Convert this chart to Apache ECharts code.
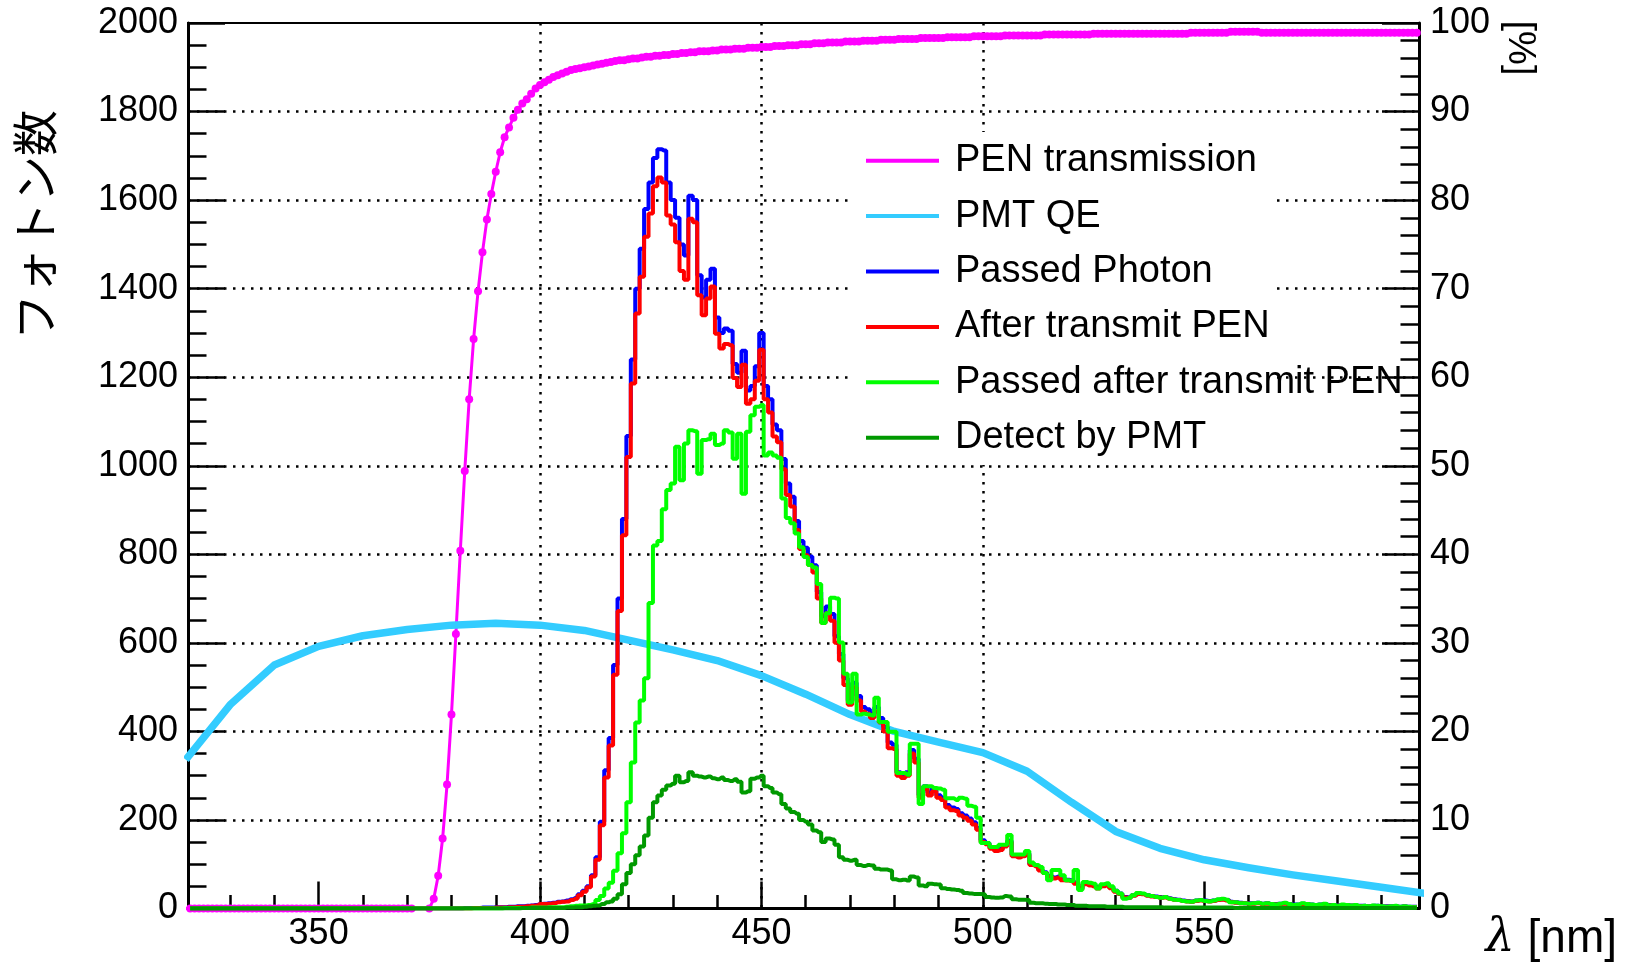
<!DOCTYPE html>
<html><head><meta charset="utf-8">
<script src="https://cdn.jsdelivr.net/npm/echarts@6/dist/echarts.min.js"></script>
<style>html,body{margin:0;padding:0;background:#fff}#c{width:1626px;height:969px}</style>
</head><body><div id="c"></div>
<script>
// ---------------- DATA ----------------
const seriesNames = ['PEN transmission','PMT QE','Passed Photon','After transmit PEN','Passed after transmit PEN','Detect by PMT'];
const xMajorTicks = [350,400,450,500,550];
const xMinorTicks = [330,340,350,360,370,380,390,400,410,420,430,440,450,460,470,480,490,500,510,520,530,540,550,560,570,580,590];

// histogram bins, 1 nm wide, first bin centre at 321 nm
const histStart = 321;
const passedPhoton = [
0,0,0,0,0,0,0,0,0,0, 0,0,0,0,0,0,0,0,0,0, 0,0,0,0,0,0,0,0,0,0, 0,0,0,0,0,0,0,0,0,0, 0,0,0,0,0,0,0,0,0,0, 0,0,0,0,0,0,0,0,0,
0,0,0,1,1,1,1,2,2,2,
3,3,3,4,4,5,5,6,7,8,
10,11,12,13,15,16,18,21,24,32,
40,50,75,116,196,312,385,550,700,880,
1067,1240,1400,1490,1580,1640,1695,1715,1712,1640,
1600,1560,1500,1475,1610,1600,1430,1380,1420,1445,
1335,1300,1310,1305,1230,1210,1260,1170,1180,1225,
1300,1180,1150,1093,1080,1015,960,930,875,830,
815,795,775,715,660,682,665,615,575,520,
470,510,480,455,450,440,455,430,410,375,
370,308,302,308,358,338,256,276,262,272,
256,250,234,228,225,215,210,203,195,182,
154,148,138,133,135,143,153,121,118,121,
125,101,97,88,82,74,70,72,66,65,
64,58,46,56,55,53,48,52,54,48,
40,34,26,25,30,34,33,30,28,27,
25,26,23,21,20,18,17,16,18,19,
18,17,18,20,21,19,15,14,13,12,
12,12,13,11,12,10,10,11,12,10,
9,9,11,10,9,8,9,10,8,8,
7,8,8,7,7,6,6,5,6,6,
5,5,5,5,4,5,4,4,4];
const afterTransmitPEN = [
0,0,0,0,0,0,0,0,0,0, 0,0,0,0,0,0,0,0,0,0, 0,0,0,0,0,0,0,0,0,0, 0,0,0,0,0,0,0,0,0,0, 0,0,0,0,0,0,0,0,0,0, 0,0,0,0,0,0,0,0,0,
0,0,0,0,0,1,1,1,1,1,
2,2,2,3,3,4,4,5,6,7,
10,10,11,12,14,15,16,19,22,30,
38,48,72,110,188,296,368,528,672,843,
1020,1186,1344,1427,1517,1570,1631,1651,1640,1565,
1545,1505,1440,1420,1558,1550,1385,1340,1378,1405,
1298,1265,1275,1272,1198,1178,1228,1140,1150,1192,
1262,1150,1120,1066,1053,992,934,908,855,812,
798,776,759,700,645,667,650,600,560,505,
460,500,470,445,440,430,445,420,400,362,
360,300,295,300,350,330,250,270,255,265,
250,245,228,222,220,210,205,198,190,178,
150,145,135,130,132,140,150,118,115,118,
122,98,95,86,80,72,68,70,64,63,
62,56,44,55,52,50,45,50,52,46,
38,33,25,24,29,33,32,29,27,26,
24,25,22,20,19,17,16,15,17,18,
17,16,17,19,20,18,14,13,12,12,
11,11,12,10,11,9,9,10,11,9,
8,8,10,9,8,7,8,9,7,7,
6,7,7,6,6,5,5,4,5,5,
4,4,4,4,3,4,3,3,3];
const passedAfterPEN = [
0,0,0,0,0,0,0,0,0,0, 0,0,0,0,0,0,0,0,0,0, 0,0,0,0,0,0,0,0,0,0, 0,0,0,0,0,0,0,0,0,0, 0,0,0,0,0,0,0,0,0,0, 0,0,0,0,0,0,0,0,0,
0,0,0,0,0,0,0,0,0,0,
0,0,1,1,1,1,1,1,2,2,
2,2,3,3,3,3,4,5,6,7,
7,8,10,19,28,45,58,85,125,170,
240,330,420,470,520,690,820,830,902,945,
960,1043,967,1050,1080,1078,982,1058,1060,1072,
1047,1050,1080,1075,1016,1072,937,1077,1114,1133,
1137,1023,1030,1023,1018,926,882,870,847,816,
794,776,770,733,645,667,702,700,601,530,
465,530,438,440,438,436,476,421,421,399,
399,306,306,302,372,372,236,276,276,272,
271,268,249,249,245,250,248,232,230,205,
148,148,139,139,144,144,166,122,122,122,
130,104,98,94,80,64,87,87,75,64,
62,87,42,60,58,56,45,55,57,50,
40,34,22,24,30,35,34,30,28,26,
24,26,22,20,19,17,16,15,18,19,
17,16,18,21,22,20,14,14,12,12,
11,12,13,11,12,10,9,11,13,10,
8,9,12,10,9,8,9,11,7,8,
6,9,8,7,8,5,6,5,7,6,
5,4,5,6,4,5,4,3,4];
const detectByPMT = [
0,0,0,0,0,0,0,0,0,0, 0,0,0,0,0,0,0,0,0,0, 0,0,0,0,0,0,0,0,0,0, 0,0,0,0,0,0,0,0,0,0, 0,0,0,0,0,0,0,0,0,0, 0,0,0,0,0,0,0,0,0,
0,0,0,0,0,0,0,0,0,0,
0,0,0,0,0,0,1,1,1,1,
1,1,1,1,1,1,2,2,3,3,
4,5,6,7,10,14,16,22,32,55,
80,100,120,140,165,205,240,255,268,278,
282,300,285,288,308,300,298,296,298,294,
292,296,290,288,292,286,262,265,293,296,
300,276,272,262,258,236,226,218,214,200,
196,190,176,172,150,158,156,144,116,110,
108,110,98,96,98,97,90,88,88,86,
66,64,65,63,72,70,52,50,56,55,
54,46,44,43,42,40,35,34,33,33,
32,26,25,24,25,28,27,21,20,20,
19,13,12,12,11,10,10,9,9,8,
8,6,6,6,5,5,5,5,4,4,
4,4,3,3,3,3,3,3,3,3,
3,2,2,2,2,2,2,2,2,2,
2,2,2,2,2,2,2,1,1,1,
1,1,1,1,1,1,1,1,1,1,
1,1,1,1,1,1,1,1,1,1,
1,1,1,1,1,1,1,1,1,1,
1,1,1,1,1,1,1,1,1];

// PEN transmission [%], one point per nm from 320 nm (no points 372-374)
const penStart = 320;
const penTransmission = [
0,0,0,0,0,0,0,0,0,0, 0,0,0,0,0,0,0,0,0,0, 0,0,0,0,0,0,0,0,0,0, 0,0,0,0,0,0,0,0,0,0, 0,0,0,0,0,0,0,0,0,0, 0,0,
null,null,null,
0,1.1,3.7,7.9,14.0,21.9,31.0,40.4,49.4,57.5,64.3,69.7,74.1,77.8,80.7,83.2,85.4,87.1,88.2,89.3,90.2,90.9,91.4,92.0,92.6,93.0,
93.3,93.6,93.9,94.1,94.3,94.5,94.7,94.8,94.9,95.0,
95.1,95.2,95.3,95.4,95.5,95.6,95.7,95.8,95.8,95.9,
96.0,96.0,96.1,96.2,96.2,96.3,96.3,96.4,96.4,96.5,
96.5,96.6,96.6,96.7,96.7,96.8,96.8,96.8,96.9,96.9,
97.0,97.0,97.0,97.1,97.1,97.1,97.2,97.2,97.2,97.3,
97.3,97.3,97.4,97.4,97.4,97.5,97.5,97.5,97.6,97.6,
97.6,97.7,97.7,97.7,97.8,97.8,97.8,97.8,97.9,97.9,
97.9,97.9,98.0,98.0,98.0,98.0,98.1,98.1,98.1,98.1,
98.2,98.2,98.2,98.2,98.2,98.3,98.3,98.3,98.3,98.3,
98.3,98.4,98.4,98.4,98.4,98.4,98.4,98.5,98.5,98.5,
98.5,98.5,98.5,98.5,98.6,98.6,98.6,98.6,98.6,98.6,
98.6,98.6,98.6,98.7,98.7,98.7,98.7,98.7,98.7,98.7,
98.7,98.7,98.7,98.7,98.8,98.8,98.8,98.8,98.8,98.8,
98.8,98.8,98.8,98.8,98.8,98.8,98.8,98.8,98.8,98.8,
98.8,98.8,98.8,98.8,98.8,98.8,98.9,98.9,98.9,98.9,
98.9,98.9,98.9,98.9,98.9,99.0,99.0,99.0,99.0,99.0,
99.0,99.0,98.9,98.9,98.9,98.9,98.9,98.9,98.9,98.9,
98.9,98.9,98.9,98.9,98.9,98.9,98.9,98.9,98.9,98.9,
98.9,98.9,98.9,98.9,98.9,98.9,98.9,98.9,98.9,98.9,
98.9,98.9,98.9,98.9,98.9,98.9,98.9,98.9];

// PMT QE [%]
const qeWavelengths = [320,330,340,350,360,370,380,390,400,410,420,430,440,450,460,470,480,490,500,510,520,530,540,550,560,570,580,590,600];
const qeValues = [16.8,23.0,27.5,29.6,30.8,31.5,32.0,32.2,32.0,31.4,30.3,29.2,28.0,26.3,24.2,21.9,20.0,18.8,17.6,15.5,12.0,8.7,6.8,5.5,4.6,3.8,3.1,2.4,1.7];

// ---------------- CHART ----------------
const FONT = 'Liberation Sans';
const toXY = (start, arr) => arr.map((v, i) => [start + i, v]);
const tickStyle = {color: '#000', width: 2.5};
const gridDots = {color: '#000', width: 2.5, type: [2.5, 6.5]};
const plainNum = v => String(v);

function hist(name, color, values) {
  return {name, type: 'line', step: 'middle', xAxisIndex: 0, yAxisIndex: 0,
    data: toXY(histStart, values), symbol: 'none', showSymbol: false,
    color, itemStyle: {color}, lineStyle: {color, width: 4}, z: 3, animation: false};
}

const chart = echarts.init(document.getElementById('c'), null, {renderer: 'canvas'});
chart.setOption({
  animation: false,
  backgroundColor: '#fff',
  grid: {left: 188, top: 23, width: 1231, height: 885.5, show: true, borderColor: '#000', borderWidth: 2, outerBoundsMode: 'none'},
  xAxis: [
    {type: 'value', position: 'bottom', min: 320.5, max: 598.5,
     axisLine: {show: true, onZero: false, lineStyle: {color: '#000', width: 3}},
     axisTick: {show: true, inside: true, length: 13.5, customValues: xMinorTicks, lineStyle: tickStyle},
     axisLabel: {show: false}, splitLine: {show: false}},
    {type: 'value', position: 'bottom', min: 320.5, max: 598.5,
     axisLine: {show: false},
     axisTick: {show: true, inside: true, length: 27, customValues: xMajorTicks, lineStyle: tickStyle},
     axisLabel: {show: true, customValues: xMajorTicks, formatter: plainNum, fontSize: 36, fontFamily: FONT, color: '#000', margin: 8},
     splitLine: {show: true, showMinLine: false, showMaxLine: false, lineStyle: gridDots}}
  ],
  yAxis: [
    {type: 'value', position: 'left', min: 0, max: 2000, interval: 200,
     axisLine: {show: true, onZero: false, lineStyle: {color: '#000', width: 3}},
     axisTick: {show: true, inside: true, length: 37, lineStyle: tickStyle},
     minorTick: {show: true, splitNumber: 4, length: 18.5, lineStyle: tickStyle},
     axisLabel: {formatter: plainNum, fontSize: 36, fontFamily: FONT, color: '#000', margin: 10},
     splitLine: {show: true, showMinLine: false, showMaxLine: false, lineStyle: gridDots}},
    {type: 'value', position: 'right', min: 0, max: 100, interval: 10,
     axisLine: {show: true, onZero: false, lineStyle: {color: '#000', width: 3}},
     axisTick: {show: true, inside: true, length: 37, lineStyle: tickStyle},
     minorTick: {show: true, splitNumber: 5, length: 18.5, lineStyle: tickStyle},
     axisLabel: {formatter: plainNum, fontSize: 36, fontFamily: FONT, color: '#000', margin: 11},
     splitLine: {show: false}}
  ],
  legend: {
    orient: 'vertical', left: 866, top: 138.7, padding: 0,
    itemWidth: 73, itemHeight: 4, itemGap: 11.4, icon: 'rect', selectedMode: false,
    textStyle: {fontSize: 38, fontFamily: FONT, color: '#000', lineHeight: 44, padding: [0, 0, 0, 11]},
    data: seriesNames
  },
  graphic: [
    {type: 'rect', z: 1, shape: {x: 850, y: 132, width: 421, height: 333}, style: {fill: '#fff'}},
    {type: 'text', x: 35, y: 225, rotation: Math.PI / 2,
     style: {text: 'フォトン数', fontSize: 46, fontFamily: 'Noto Sans CJK JP', fill: '#000', align: 'center', verticalAlign: 'middle', textAlign: 'center', textVerticalAlign: 'middle'}},
    {type: 'text', x: 1519, y: 48, rotation: -Math.PI / 2,
     style: {text: '[%]', fontSize: 38, fontFamily: FONT, fill: '#000', align: 'center', verticalAlign: 'middle', textAlign: 'center', textVerticalAlign: 'middle'}},
    {type: 'text', x: 1617, y: 939,
     style: {text: '{l|λ} [nm]', rich: {l: {fontStyle: 'italic', fontSize: 46, fontFamily: 'DejaVu Serif'}}, fontSize: 46, fontFamily: FONT, fill: '#000', align: 'right', verticalAlign: 'middle', textAlign: 'right', textVerticalAlign: 'middle'}}
  ],
  series: [
    {name: 'PEN transmission', type: 'line', xAxisIndex: 0, yAxisIndex: 1,
     data: toXY(penStart, penTransmission), symbol: 'circle', symbolSize: 8, showSymbol: true, showAllSymbol: true,
     connectNulls: false, color: '#ff00ff', itemStyle: {color: '#ff00ff'}, lineStyle: {color: '#ff00ff', width: 3}, z: 2},
    {name: 'PMT QE', type: 'line', xAxisIndex: 0, yAxisIndex: 1,
     data: qeWavelengths.map((w, i) => [w, qeValues[i]]), symbol: 'none', showSymbol: false,
     color: '#33ccff', itemStyle: {color: '#33ccff'}, lineStyle: {color: '#33ccff', width: 7.5, join: 'round'}, z: 2},
    hist('Passed Photon', '#0000ff', passedPhoton),
    hist('After transmit PEN', '#ff0000', afterTransmitPEN),
    hist('Passed after transmit PEN', '#00ff00', passedAfterPEN),
    hist('Detect by PMT', '#009900', detectByPMT)
  ]
});
</script>
</body></html>
